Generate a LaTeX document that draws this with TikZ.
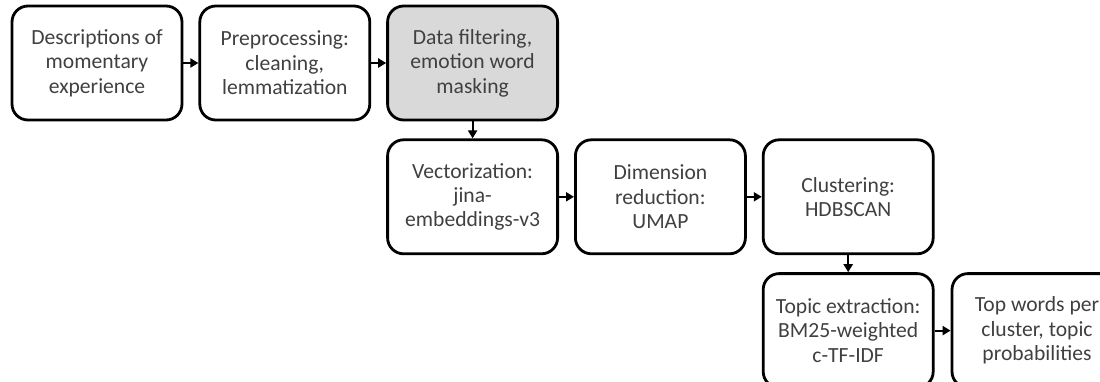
\documentclass[tikz,border=0pt]{standalone}
\usepackage{fontspec}
\setmainfont{Carlito}
\usetikzlibrary{positioning,arrows.meta}

\begin{document}
\begin{tikzpicture}[
    stage/.style={draw=black, line width=1.4pt, rounded corners=8pt, minimum width=85pt, minimum height=57pt, align=center, text=black!75, font=\fontsize{10.8}{12.2}\selectfont, inner sep=2pt},
    flow/.style={-{Triangle[length=4pt,width=4.5pt]}, line width=1pt}
  ]
    \useasboundingbox (0,0) rectangle (550pt,-190.5pt);
    % first row
    \node[stage] at (48.5pt,-31.5pt) (desc) {Descriptions of\\momentary\\experience};
    \node[stage, right=7.5pt of desc] (prep) {Preprocessing:\\cleaning,\\lemmatization};
    \node[stage, fill=black!15, right=7.5pt of prep] (filt) {Data filtering,\\emotion word\\masking};
    % second row
    \node[stage, below=8.5pt of filt] (vect) {Vectorization:\\jina-\\embeddings-v3};
    \node[stage, right=7.5pt of vect] (umap) {Dimension\\reduction:\\UMAP};
    \node[stage, right=7.5pt of umap] (clus) {Clustering:\\HDBSCAN};
    % third row
    \node[stage, below=8.5pt of clus] (topic) {Topic extraction:\\BM25-weighted\\c-TF-IDF};
    \node[stage, right=8pt of topic] (words) {Top words per\\cluster, topic\\probabilities};

    \draw[flow] (desc) -- (prep);
    \draw[flow] (prep) -- (filt);
    \draw[flow] (filt) -- (vect);
    \draw[flow] (vect) -- (umap);
    \draw[flow] (umap) -- (clus);
    \draw[flow] (clus) -- (topic);
    \draw[flow] (topic) -- (words);
\end{tikzpicture}
\end{document}
